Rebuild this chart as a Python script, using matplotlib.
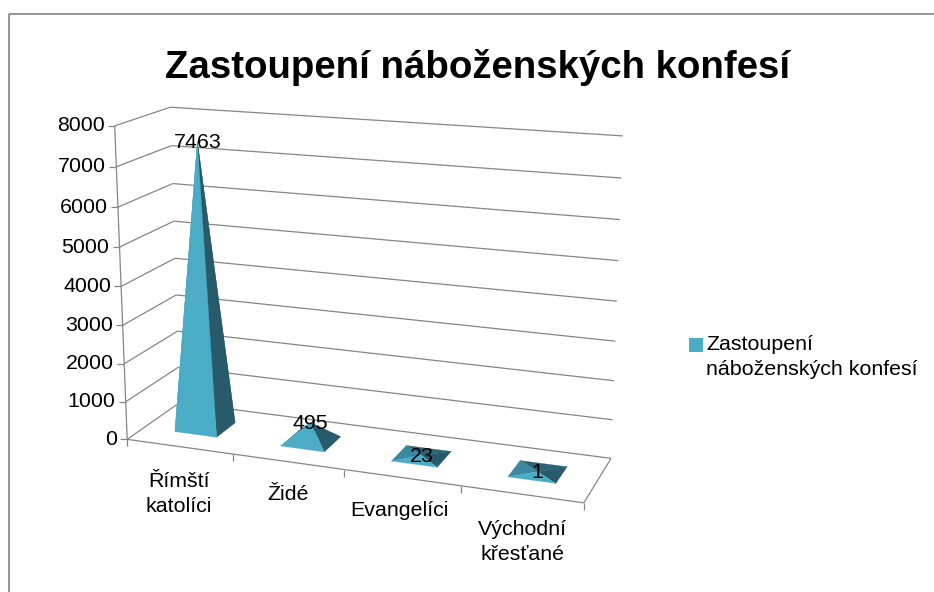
#!/usr/bin/env python
import matplotlib
matplotlib.use('Agg')
import matplotlib.pyplot as plt
from matplotlib.patches import Polygon, Rectangle
import numpy as np

title = 'Zastoupení náboženských konfesí'
categories = ['Římští\nkatolíci', 'Židé', 'Evangelíci', 'Východní\nkřesťané']
values = [7463, 495, 23, 1]
yticks = [0, 1000, 2000, 3000, 4000, 5000, 6000, 7000, 8000]
ymax = 8000
legendText = 'Zastoupení\nnáboženských konfesí'

# where the category labels sit, in pixels
labelPos = [(179, 494), (288, 494), (399, 511), (522, 542)]

LIGHT = '#4BACC6'
MID = '#3B88A0'
DARK = '#275B6B'
BACK = '#2C6375'
GRID = '#868686'
W, H = 934, 592
FS = 15.4

plt.rcParams['font.family'] = ['Liberation Sans', 'DejaVu Sans']


# fit the 3D -> picture projection on the frame corners: (u, depth, height) -> (px, py)
frame = [
    ((0, 0, 0), (127, 439)), ((1, 0, 0), (584, 503)),
    ((0, 1, 0), (180, 403)), ((1, 1, 0), (611, 458)),
    ((0, 0, 1), (115, 126)), ((0, 1, 1), (170, 107)),
    ((1, 1, 1), (623, 136)), ((0.25, 0, 0), (233, 454)),
    ((0.75, 0, 0), (461, 486)),
]
A = []
b = []
for (u, d, v), (px, py) in frame:
    A.append([u, d, v, 1, 0, 0, 0, 0, -u * px, -d * px, -v * px])
    A.append([0, 0, 0, 0, u, d, v, 1, -u * py, -d * py, -v * py])
    b += [px, py]
P = np.linalg.lstsq(np.array(A, float), np.array(b, float), rcond=None)[0]
P = np.append(P, 1).reshape(3, 4)


def proj(u, d, value):
    h = P @ np.array([u, d, value / ymax, 1.0])
    return h[0] / h[2], h[1] / h[2]


fig = plt.figure(figsize=(W / 100, H / 100), dpi=100)
ax = fig.add_axes([0, 0, 1, 1])
ax.set_xlim(0, W)
ax.set_ylim(H, 0)
ax.axis('off')

# outer border of the chart area
ax.add_patch(Rectangle((8.5, 14), W, H, fill=False, ec='#8C8C8C', lw=1.3))

ax.text(478, 68, title, fontsize=27.6, fontweight='bold', ha='center', va='center')


def line(p, q, lw=0.9):
    ax.plot([p[0], q[0]], [p[1], q[1]], color=GRID, lw=lw, solid_capstyle='butt')


# gridlines on the side wall and the back wall
for t in yticks:
    line(proj(0, 0, t), proj(0, 1, t))
    line(proj(0, 1, t), proj(1, 1, t))
    fx, fy = proj(0, 0, t)
    line((fx - 7, fy), (fx, fy))
    ax.text(fx - 10, fy, str(t), fontsize=FS, ha='right', va='center')

# axis lines and floor outline
line(proj(0, 0, 0), proj(0, 0, ymax))
line(proj(0, 0, 0), proj(1, 0, 0))
line(proj(1, 0, 0), proj(1, 1, 0))
for i in range(len(categories) + 1):
    tx, ty = proj(i / len(categories), 0, 0)
    line((tx, ty), (tx, ty + 7))

# pyramids, back to front
n = len(categories)
for i, val in enumerate(values):
    uc = (i + 0.5) / n
    du = 0.2 / n
    dd = 0.19
    fl = proj(uc - du, 0.5 - dd, 0)
    fr = proj(uc + du, 0.5 - dd, 0)
    br = proj(uc + du, 0.5 + dd, 0)
    bl = proj(uc - du, 0.5 + dd, 0)
    top = proj(uc, 0.5, val)
    for pts, col in [((bl, br, top), BACK), ((fl, bl, top), MID),
                     ((fr, br, top), DARK), ((fl, fr, top), LIGHT)]:
        ax.add_patch(Polygon(pts, closed=True, fc=col, ec=col, lw=0.2, zorder=3))
    ax.text(top[0], top[1] + 1, str(val), fontsize=FS, ha='center', va='center', zorder=5)

for lab, (x, y) in zip(categories, labelPos):
    ax.text(x, y, lab, fontsize=FS, ha='center', va='center', linespacing=1.42)

# legend
ax.add_patch(Rectangle((689, 338), 14, 14, fc=LIGHT, ec='none'))
ax.text(706, 357, legendText, fontsize=FS, ha='left', va='center', linespacing=1.42)

fig.savefig('out.png', dpi=100)
